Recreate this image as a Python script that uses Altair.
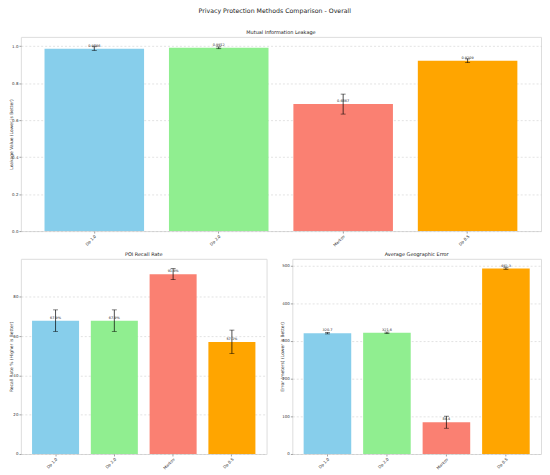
import altair as alt
import pandas as pd

methods = ["Dp 1.0", "Dp 2.0", "Markov", "Dp 0.5"]
colors = ["#87CEEB", "#90EE90", "#FA8072", "#FFA500"]

leak = [0.9866, 0.9912, 0.6867, 0.9209]
leak_err = [0.010, 0.005, 0.054, 0.010]
leak_labels = ["0.9866", "0.9912", "0.6867", "0.9209"]

recall = [67.9, 67.9, 91.6, 57.1]
recall_err = [5.5, 5.5, 2.8, 6.0]
recall_labels = ["67.9%", "67.9%", "91.6%", "57.1%"]

geo = [320.7, 321.6, 84.4, 492.3]
geo_err = [2.0, 2.0, 16.0, 2.0]
geo_labels = ["320.7", "321.6", "84.4", "492.3"]

FONT = "DejaVu Sans"


def panel(values, errs, labels, title, ytitle, ymax, tickcount, yfmt, w, h):
    df = pd.DataFrame({
        "method": methods,
        "value": values,
        "lo": [v - e for v, e in zip(values, errs)],
        "hi": [v + e for v, e in zip(values, errs)],
        "label": labels,
    })
    xscale = alt.Scale(domain=methods, paddingInner=0.2, paddingOuter=0.19)
    x = alt.X("method:N", sort=methods, scale=xscale,
              axis=alt.Axis(title=None, labelAngle=315, labelAlign="right",
                            labelBaseline="top", labelFontSize=4, labelFont=FONT,
                            labelColor="#333", tickSize=2, tickColor="#666",
                            tickWidth=0.6, labelPadding=1, domain=False, grid=False,
                            labelOverlap=False))
    y = alt.Y("value:Q", scale=alt.Scale(domain=[0, ymax], nice=False, zero=True),
              axis=alt.Axis(tickCount=tickcount, format=yfmt, title=ytitle, titleFontSize=4.5,
                            titleFont=FONT, titleFontWeight="normal", titleColor="#333",
                            titlePadding=0.5, labelFontSize=4, labelFont=FONT,
                            labelColor="#333", tickSize=2, tickColor="#666",
                            tickWidth=0.6, labelPadding=1, domain=False,
                            labelOverlap=False, labelFlush=False,
                            minExtent=7, maxExtent=7,
                            grid=True, gridDash=[2, 2], gridColor="#bbbbbb",
                            gridOpacity=0.7, gridWidth=0.6))
    base = alt.Chart(df)
    bars = base.mark_bar().encode(
        x=x, y=y,
        color=alt.Color("method:N", scale=alt.Scale(domain=methods, range=colors), legend=None),
    )
    xs = alt.X("method:N", sort=methods)
    rule = base.mark_rule(color="black", strokeWidth=0.7).encode(x=xs, y="lo:Q", y2="hi:Q")
    cap_lo = base.mark_tick(color="black", size=5, thickness=0.7).encode(x=xs, y="lo:Q")
    cap_hi = base.mark_tick(color="black", size=5, thickness=0.7).encode(x=xs, y="hi:Q")
    text = base.mark_text(fontSize=3.5, font=FONT, baseline="bottom", dy=-1, color="#222").encode(
        x=xs, y="value:Q", text="label:N")
    return alt.layer(bars, rule, cap_lo, cap_hi, text).properties(
        width=w, height=h,
        title=alt.TitleParams(title, fontSize=5, font=FONT, fontWeight="normal",
                              color="#222", offset=1.5, anchor="middle", frame="group"),
    )


top = panel(leak, leak_err, leak_labels, "Mutual Information Leakage",
            "Leakage Value (Lower is Better)", 1.05, 6, ".1f", 525, 196)
bl = panel(recall, recall_err, recall_labels, "POI Recall Rate",
           "Recall Rate % (Higher is Better)", 99.4, 5, "d", 248, 197)
br = panel(geo, geo_err, geo_labels, "Average Geographic Error",
           "Error (meters) (Lower is Better)", 518, 6, "d", 251, 197)

bottom = alt.hconcat(bl, br, spacing=26, bounds="flush")
chart = alt.vconcat(top, bottom, spacing=28, bounds="flush").properties(
    title=alt.TitleParams("Privacy Protection Methods Comparison - Overall", fontSize=6.3,
                          font=FONT, fontWeight="normal", color="#222", offset=16,
                          anchor="middle", frame="bounds"),
    padding={"left": 0, "top": -3, "right": 0, "bottom": 0},
).configure_view(stroke="#888", strokeWidth=0.8).configure(background="white")

chart.save("out.html", embed_options={"renderer": "svg", "actions": False})
